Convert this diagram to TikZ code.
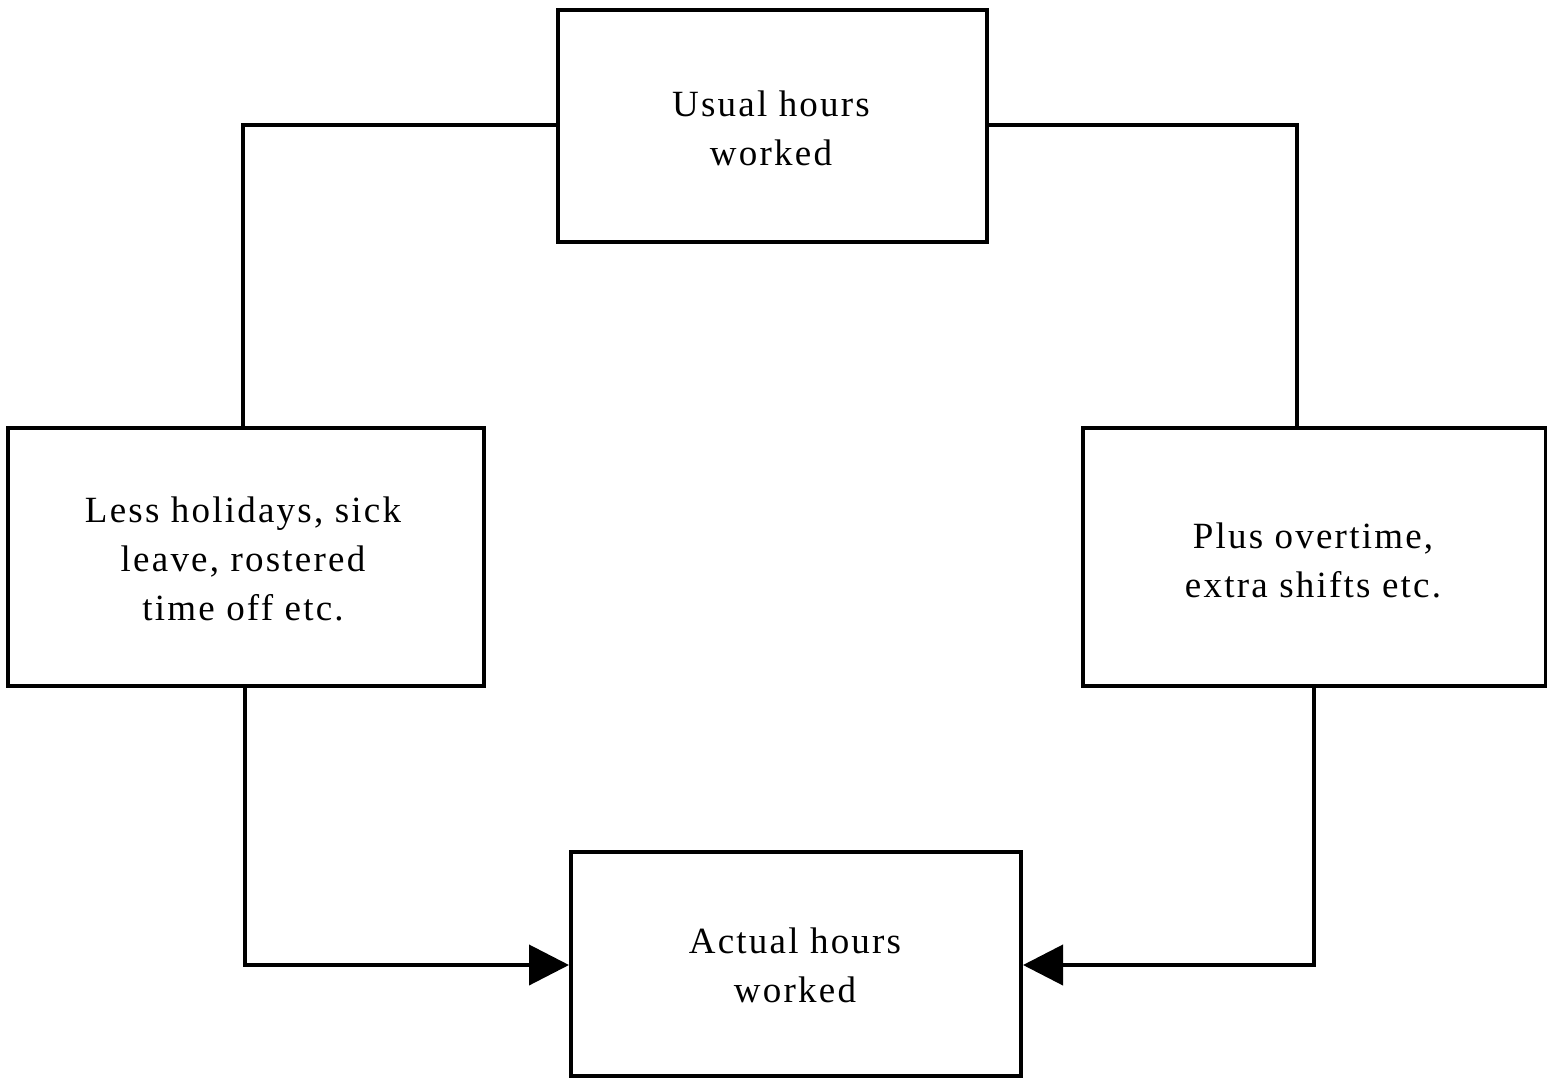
\documentclass[tikz,border=0pt]{standalone}
\usepackage{fontspec}
\setmainfont{Liberation Serif}[LetterSpace=6]
\usetikzlibrary{arrows.meta}
\begin{document}
\begin{tikzpicture}[x=0.5pt,y=-0.5pt,
  box/.style={draw,line width=2pt,inner sep=0pt},
  label/.style={align=center,font=\fontsize{18.5}{24.5}\selectfont},
  link/.style={line width=2pt},
  arrowlink/.style={link,-{Triangle[length=20pt,width=20pt]}}]
\useasboundingbox (0,0) rectangle (1547,1081);
% boxes
\draw[box] (558,10) rectangle (987,242);
\draw[box] (8,428) rectangle (484,686);
\draw[box] (1083,428) rectangle (1546,686);
\draw[box] (571,852) rectangle (1021,1076);
\coordinate (usualW) at (558,125);
\coordinate (usualE) at (987,125);
\coordinate (lessN) at (243,428);
\coordinate (lessS) at (245,686);
\coordinate (plusN) at (1297,428);
\coordinate (plusS) at (1314,686);
\coordinate (actualW) at (569,965);
\coordinate (actualE) at (1023,965);
% texts
\node[label] (usual) at (771,128) {Usual hours\\worked};
\node[label] (less) at (243,559) {Less holidays, sick\\leave, rostered\\time off etc.};
\node[label] (plus) at (1313,560) {Plus overtime,\\extra shifts etc.};
\node[label] (actual) at (795,965) {Actual hours\\worked};
% connectors
\draw[link] (usualW) -| (lessN);
\draw[link] (usualE) -| (plusN);
\draw[arrowlink] (lessS) |- (actualW);
\draw[arrowlink] (plusS) |- (actualE);
\end{tikzpicture}
\end{document}
